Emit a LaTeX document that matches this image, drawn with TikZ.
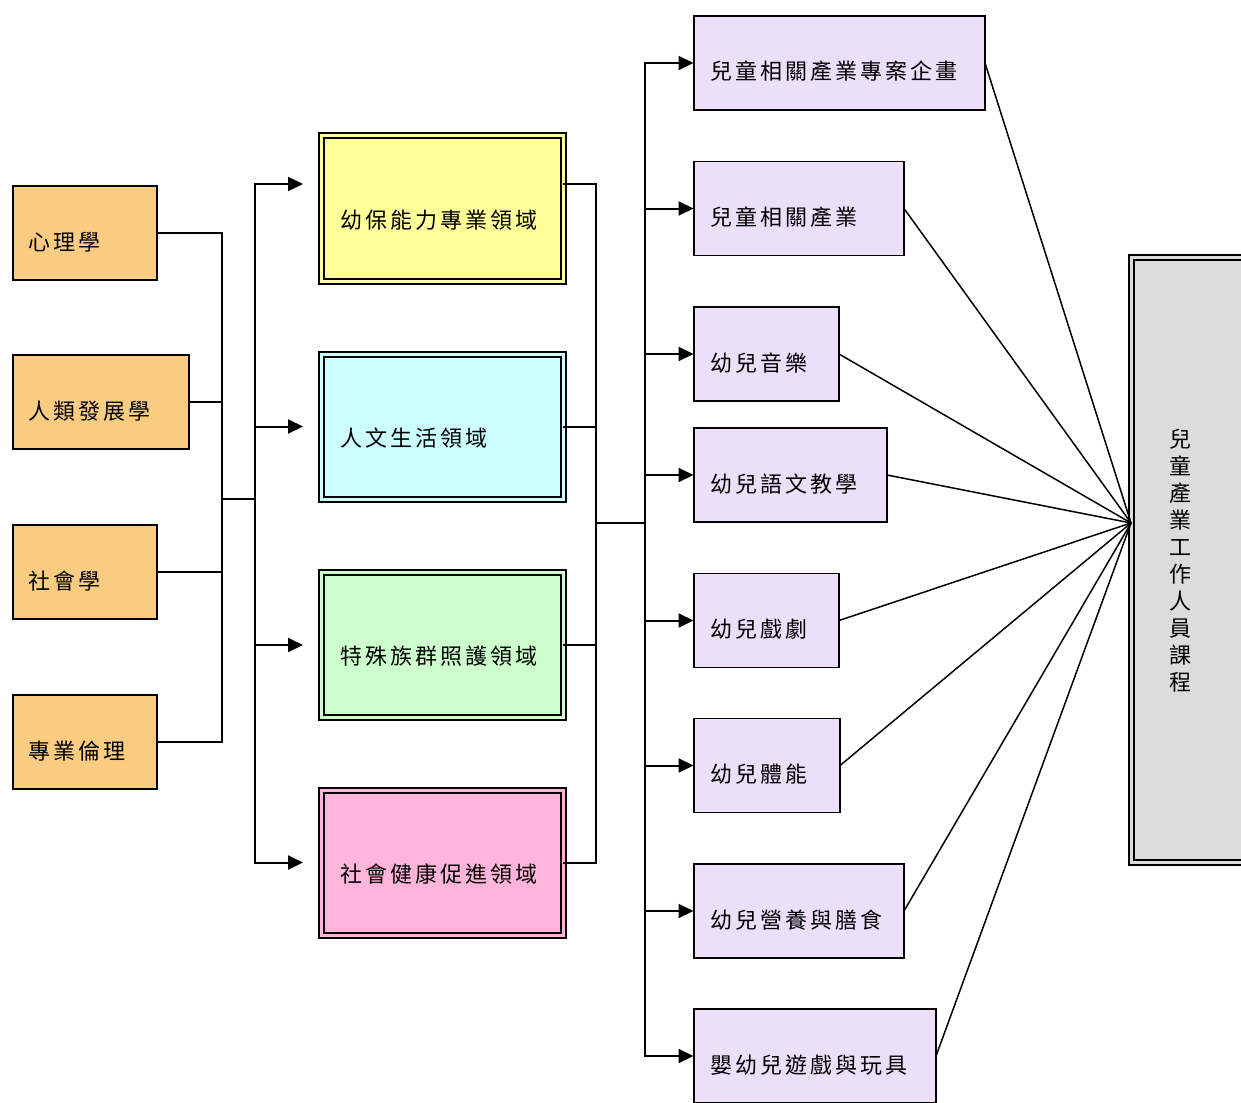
\documentclass[tikz,border=0pt]{standalone}
\usepackage{fontspec}
\newfontfamily\cjk[LetterSpace=14]{Noto Sans CJK TC}
\newfontfamily\cjkv{Noto Sans CJK TC}
\usetikzlibrary{arrows.meta}
\definecolor{lorange}{HTML}{F9CC82}
\definecolor{myyellow}{HTML}{FFFF99}
\definecolor{mycyan}{HTML}{CCFFFF}
\definecolor{mygreen}{HTML}{CCFFCC}
\definecolor{mypink}{HTML}{FFB5DA}
\definecolor{mylav}{HTML}{EBDFFA}
\definecolor{mygray}{HTML}{DCDCDC}
\newcommand\bt[3]{\makebox[#1][l]{\hspace{#2}#3}}
\begin{document}
\begin{tikzpicture}[x=1pt,y=-1pt,
  every node/.style={font=\cjk\fontsize{22}{25}\selectfont,inner sep=0pt,outer sep=0pt},
  lbox/.style={draw=black,line width=2pt,fill=lorange,minimum height=94pt,text height=35pt,text depth=1pt},
  mbox/.style={draw=black,line width=2pt,double=#1,double distance=3pt,fill=#1,minimum width=242pt,minimum height=145pt,text height=40pt,text depth=1pt},
  rbox/.style={draw=black,line width=1.5pt,fill=mylav,minimum height=94pt,text height=35pt,text depth=1pt},
  bigbox/.style={draw=black,line width=2pt,double=mygray,double distance=3pt,fill=mygray,minimum width=129pt,minimum height=605pt},
  conn/.style={draw=black,line width=2pt},
  arr/.style={conn,-{Triangle[length=15pt,width=14pt]}},
  fan/.style={draw=black,line width=1.5pt},
]
\useasboundingbox (0,0) rectangle (1241,1102);
\clip (0,0) rectangle (1241,1102);
% left boxes
\node[lbox,minimum width=144pt] (L1) at (85,233) {\bt{144pt}{15pt}{心理學}};
\node[lbox,minimum width=176pt] (L2) at (101,402) {\bt{176pt}{15pt}{人類發展學}};
\node[lbox,minimum width=144pt] (L3) at (85,572) {\bt{144pt}{15pt}{社會學}};
\node[lbox,minimum width=144pt] (L4) at (85,742) {\bt{144pt}{15pt}{專業倫理}};
% middle boxes
\node[mbox=myyellow] (M1) at (442,208.5) {\bt{242pt}{19pt}{幼保能力專業領域}};
\node[mbox=mycyan] (M2) at (442,426.5) {\bt{242pt}{19pt}{人文生活領域}};
\node[mbox=mygreen] (M3) at (442,645) {\bt{242pt}{19pt}{特殊族群照護領域}};
\node[mbox=mypink] (M4) at (442,862.5) {\bt{242pt}{19pt}{社會健康促進領域}};
% right boxes
\node[rbox,minimum width=291pt] (R1) at (839.5,63) {\bt{291pt}{16pt}{兒童相關產業專案企畫}};
\node[rbox,minimum width=210pt] (R2) at (799,208.5) {\bt{210pt}{16pt}{兒童相關產業}};
\node[rbox,minimum width=145pt] (R3) at (766.5,354) {\bt{145pt}{16pt}{幼兒音樂}};
\node[rbox,minimum width=193pt] (R4) at (790.5,475) {\bt{193pt}{16pt}{幼兒語文教學}};
\node[rbox,minimum width=145pt] (R5) at (766.5,620.5) {\bt{145pt}{16pt}{幼兒戲劇}};
\node[rbox,minimum width=146pt] (R6) at (767,765.5) {\bt{146pt}{16pt}{幼兒體能}};
\node[rbox,minimum width=210pt] (R7) at (799,911) {\bt{210pt}{16pt}{幼兒營養與膳食}};
\node[rbox,minimum width=242pt] (R8) at (815,1056) {\bt{242pt}{16pt}{嬰幼兒遊戲與玩具}};
% big box
\node[bigbox] (BB) at (1195.5,559.5) {};
\node[font=\cjkv\fontsize{22}{27}\selectfont,align=center] (BT) at (1180,561)
  {兒\\童\\產\\業\\工\\作\\人\\員\\課\\程};
% coordinates
\coordinate (A) at (222,499);
\coordinate (B) at (255,499);
\coordinate (C) at (596,523);
\coordinate (D) at (645,523);
\coordinate (F) at (1131,523);
% left connectors
\foreach \n in {L1,L2,L3,L4} \draw[conn] (\n.east) -| (A);
\draw[conn] (A) -- (B);
\draw[arr,shorten >=18pt] (B) |- ([yshift=24.5pt]M1.west);
\foreach \n in {M2,M3,M4} \draw[arr,shorten >=18pt] (B) |- (\n.west);
% middle to right
\draw[conn] ([yshift=24.5pt]M1.east) -| (C);
\foreach \n in {M2,M3,M4} \draw[conn] (\n.east) -| (C);
\draw[conn] (C) -- (D);
\foreach \n in {R1,R2,R3,R4,R5,R6,R7,R8} \draw[arr,shorten >=0.5pt] (D) |- (\n.west);
% fan
\foreach \n in {R1,R2,R3,R4,R5,R6,R7,R8} \draw[fan] (\n.east) -- (F);
\end{tikzpicture}
\end{document}
